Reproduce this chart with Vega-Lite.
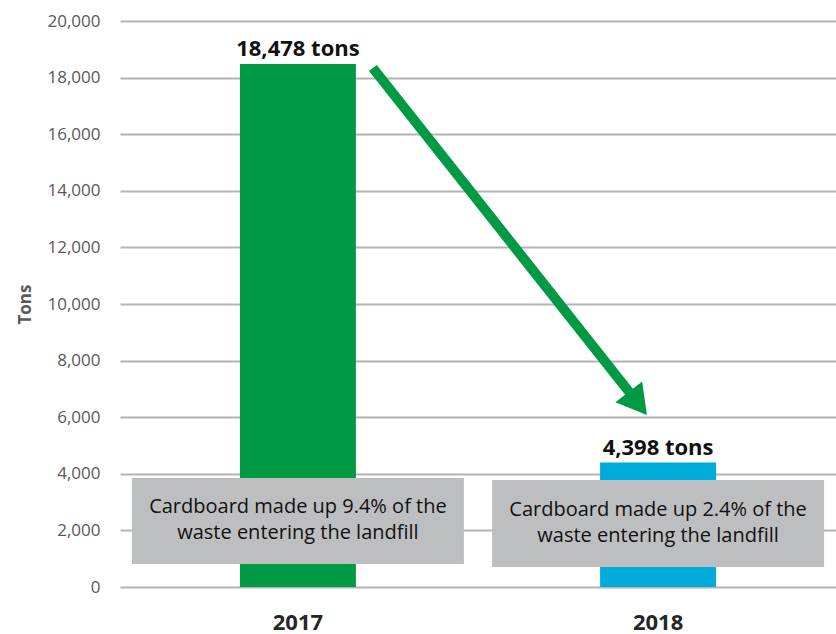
{
  "$schema": "https://vega.github.io/schema/vega-lite/v6.json",
  "width": 716,
  "height": 566,
  "autosize": {"type": "none"},
  "padding": {"left": 120, "top": 21, "right": 0, "bottom": 47},
  "background": "white",
  "config": {"view": {"stroke": null}, "font": "Open Sans"},
  "datasets": {
    "bars": [
      {"year": "2017", "tons": 18478, "label": "18,478 tons"},
      {"year": "2018", "tons": 4398, "label": "4,398 tons"}
    ],
    "notes": [
      {"year": "2017", "top": 3850, "bottom": 810, "mid": 2810, "note": ["Cardboard made up 9.4% of the", "waste entering the landfill"]},
      {"year": "2018", "top": 3780, "bottom": 710, "mid": 2725, "note": ["Cardboard made up 2.4% of the", "waste entering the landfill"]}
    ],
    "arrow": [{"x": 0.208, "y": 18340, "x2": 0.931, "y2": 6714}],
    "head": [{"x": 0.944, "y": 6484}]
  },
  "layer": [
    {
      "layer": [
        {
          "data": {"name": "bars"},
          "mark": {"type": "bar"},
          "encoding": {
            "x": {
              "field": "year", "type": "nominal",
              "scale": {"paddingInner": 0.678, "paddingOuter": 0.333},
              "axis": {"title": null, "labelAngle": 0, "ticks": false, "domain": false, "labelPadding": 25, "labelFont": "Open Sans", "labelFontSize": 22, "labelFontWeight": "bold", "labelColor": "#262626"}
            },
            "y": {
              "field": "tons", "type": "quantitative", "title": "Tons",
              "scale": {"domain": [0, 20000], "nice": false},
              "axis": {
                "values": [0, 2000, 4000, 6000, 8000, 10000, 12000, 14000, 16000, 18000, 20000],
                "labelExpr": "format(datum.value, ',')", "grid": true, "gridColor": "#b3b3b3", "gridWidth": 2,
                "domain": false, "ticks": false, "labelPadding": 20,
                "labelFont": "Open Sans", "labelFontSize": 17, "labelColor": "#595959",
                "titleFont": "Open Sans", "titleFontSize": 17, "titleFontWeight": "bold", "titleColor": "#595959", "titlePadding": 12
              }
            },
            "color": {"field": "year", "type": "nominal", "scale": {"domain": ["2017", "2018"], "range": ["#009a44", "#00aad9"]}, "legend": null}
          }
        },
        {
          "data": {"name": "bars"},
          "mark": {"type": "text", "baseline": "alphabetic", "dy": -8, "fontSize": 22, "fontWeight": "bold", "color": "#111111", "font": "Open Sans"},
          "encoding": {
            "x": {"field": "year", "type": "nominal"},
            "y": {"field": "tons", "type": "quantitative", "title": "Tons"},
            "text": {"field": "label"}
          }
        },
        {
          "data": {"name": "notes"},
          "mark": {"type": "bar", "width": 332, "color": "#bdbec0"},
          "encoding": {
            "x": {"field": "year", "type": "nominal"},
            "y": {"field": "top", "type": "quantitative", "title": "Tons"},
            "y2": {"field": "bottom"}
          }
        },
        {
          "data": {"name": "notes"},
          "mark": {"type": "text", "baseline": "middle", "fontSize": 20, "fontWeight": 500, "lineHeight": 26, "color": "#111111", "font": "Open Sans"},
          "encoding": {
            "x": {"field": "year", "type": "nominal"},
            "y": {"field": "mid", "type": "quantitative", "title": "Tons"},
            "text": {"field": "note"}
          }
        }
      ]
    },
    {
      "layer": [
        {
          "data": {"name": "arrow"},
          "mark": {"type": "rule", "strokeWidth": 10, "color": "#009a44"},
          "encoding": {
            "x": {"field": "x", "type": "quantitative", "scale": {"domain": [-0.4944, 1.4944], "nice": false, "zero": false}, "axis": null},
            "y": {"field": "y", "type": "quantitative", "title": "Tons"},
            "x2": {"field": "x2"},
            "y2": {"field": "y2"}
          }
        },
        {
          "data": {"name": "head"},
          "mark": {"type": "point", "shape": "triangle-up", "size": 1156, "angle": 142, "filled": true, "opacity": 1, "color": "#009a44"},
          "encoding": {
            "x": {"field": "x", "type": "quantitative"},
            "y": {"field": "y", "type": "quantitative", "title": "Tons"}
          }
        }
      ]
    }
  ],
  "resolve": {"scale": {"x": "independent"}}
}
